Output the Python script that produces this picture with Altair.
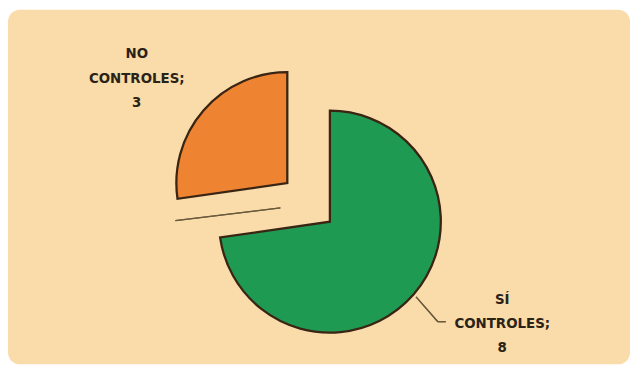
import altair as alt
import pandas as pd

categories = ["SÍ CONTROLES", "NO CONTROLES"]
values = [8, 3]
order = [1, 2]
colors = ["#1f9a52", "#ee8432"]

df = pd.DataFrame({"cat": categories, "value": values, "order": order})
total = sum(values)

W, H = 628, 358
BG = "#f9dcaa"
STROKE = "#3a2414"

base = alt.Chart(df).transform_stack(
    stack="value", as_=["start", "end"], groupby=[], sort=[{"field": "order"}]
).transform_calculate(
    label="replace(datum.cat, ' ', '\\n') + ';\\n' + datum.value"
)

theta_scale = alt.Scale(domain=[0, total], range=[0, 6.283185307179586])
color_scale = alt.Scale(domain=categories, range=colors)


def slice_layer(cat, cx, cy):
    return base.transform_filter(alt.datum.cat == cat).mark_arc(
        radius=112, stroke=STROKE, strokeWidth=2.3, strokeJoin="miter"
    ).encode(
        theta=alt.Theta("start:Q", scale=theta_scale),
        theta2="end:Q",
        color=alt.Color("cat:N", scale=color_scale, legend=None),
        x=alt.value(cx),
        y=alt.value(cy),
    )


def label_layer(cat, lx, ly):
    return base.transform_filter(alt.datum.cat == cat).mark_text(
        font="DejaVu Sans", fontWeight="bold", fontSize=13.5,
        color="#2b2218", lineBreak="\n", lineHeight=24.5,
        align="center", baseline="middle"
    ).encode(text="label:N", x=alt.value(lx), y=alt.value(ly))


green = slice_layer("SÍ CONTROLES", 325, 214)
orange = slice_layer("NO CONTROLES", 282, 175)

lbl_no = label_layer("NO CONTROLES", 130, 45)
lbl_si = label_layer("SÍ CONTROLES", 499, 293)

lead = alt.Chart(df).mark_rule(color="#6b5a3e", strokeWidth=1.3)
lead1 = lead.encode(x=alt.value(412), y=alt.value(290), x2=alt.value(434), y2=alt.value(315))
lead2 = lead.encode(x=alt.value(434), y=alt.value(315), x2=alt.value(442), y2=alt.value(315))
stray = lead.encode(x=alt.value(169), y=alt.value(213), x2=alt.value(275), y2=alt.value(200))

chart = alt.layer(green, orange, lbl_no, lbl_si, lead1, lead2, stray).properties(
    width=W, height=H, padding=0, autosize=alt.AutoSizeParams(type="none"),
    background="white"
).configure_view(fill=BG, stroke=None, cornerRadius=12)

chart.save("out.html", embed_options={"renderer": "svg", "actions": False})
